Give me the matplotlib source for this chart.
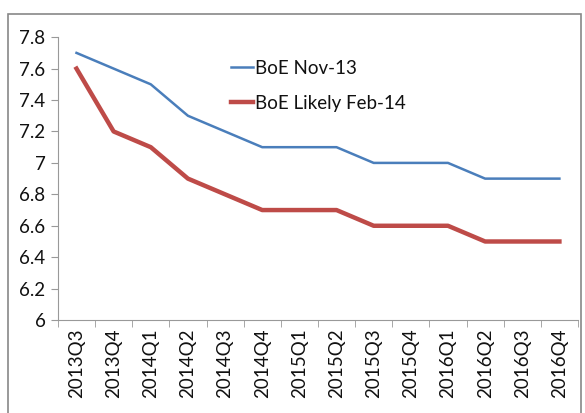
import matplotlib.pyplot as plt
from matplotlib.patches import Rectangle

# Bank rate paths by quarter
quarters = ["2013Q3", "2013Q4", "2014Q1", "2014Q2", "2014Q3", "2014Q4", "2015Q1",
            "2015Q2", "2015Q3", "2015Q4", "2016Q1", "2016Q2", "2016Q3", "2016Q4"]
boe_nov13 = [7.7, 7.6, 7.5, 7.3, 7.2, 7.1, 7.1, 7.1, 7.0, 7.0, 7.0, 6.9, 6.9, 6.9]
boe_feb14 = [7.6, 7.2, 7.1, 6.9, 6.8, 6.7, 6.7, 6.7, 6.6, 6.6, 6.6, 6.5, 6.5, 6.5]
y_ticks = [6, 6.2, 6.4, 6.6, 6.8, 7, 7.2, 7.4, 7.6, 7.8]
y_labels = ["6", "6.2", "6.4", "6.6", "6.8", "7", "7.2", "7.4", "7.6", "7.8"]

plt.rcParams['font.family'] = ['Lato', 'DejaVu Sans']

fig = plt.figure(figsize=(5.85, 4.13), dpi=100)
ax = fig.add_axes([0.099, 0.225, 0.889, 0.685])

# chart frame
fig.patches.append(Rectangle((0.014, -0.01), 0.98, 0.977, transform=fig.transFigure,
                             fill=False, edgecolor='#888888', linewidth=1.2))

x = list(range(len(quarters)))
ax.plot(x, boe_nov13, color='#4a7ebb', linewidth=1.8, label='BoE Nov-13')
ax.plot(x, boe_feb14, color='#be4b48', linewidth=3.2, label='BoE Likely Feb-14')

ax.set_xlim(-0.5, len(quarters) - 0.5)
ax.set_ylim(6, 7.8)
ax.set_yticks(y_ticks)
ax.set_yticklabels(y_labels, fontsize=13.5, color='#111111')
ax.set_xticks(x)
ax.set_xticklabels(quarters, rotation=90, fontsize=13.5, color='#111111')
ax.tick_params(axis='x', length=0, pad=6)
ax.set_xticks([i - 0.5 for i in range(len(quarters) + 1)], minor=True)
ax.tick_params(axis='x', which='minor', length=5, color='#999999')
ax.tick_params(axis='y', length=5, color='#999999', pad=4)

for side in ['top', 'right']:
    ax.spines[side].set_visible(False)
for side in ['left', 'bottom']:
    ax.spines[side].set_color('#999999')

leg = ax.legend(loc='upper left', bbox_to_anchor=(0.3, 0.98), frameon=False, fontsize=13.5,
                handlelength=1.2, handletextpad=0.1, labelspacing=0.95)
for t in leg.get_texts():
    t.set_color('#111111')

fig.savefig('out.png', dpi=100)
